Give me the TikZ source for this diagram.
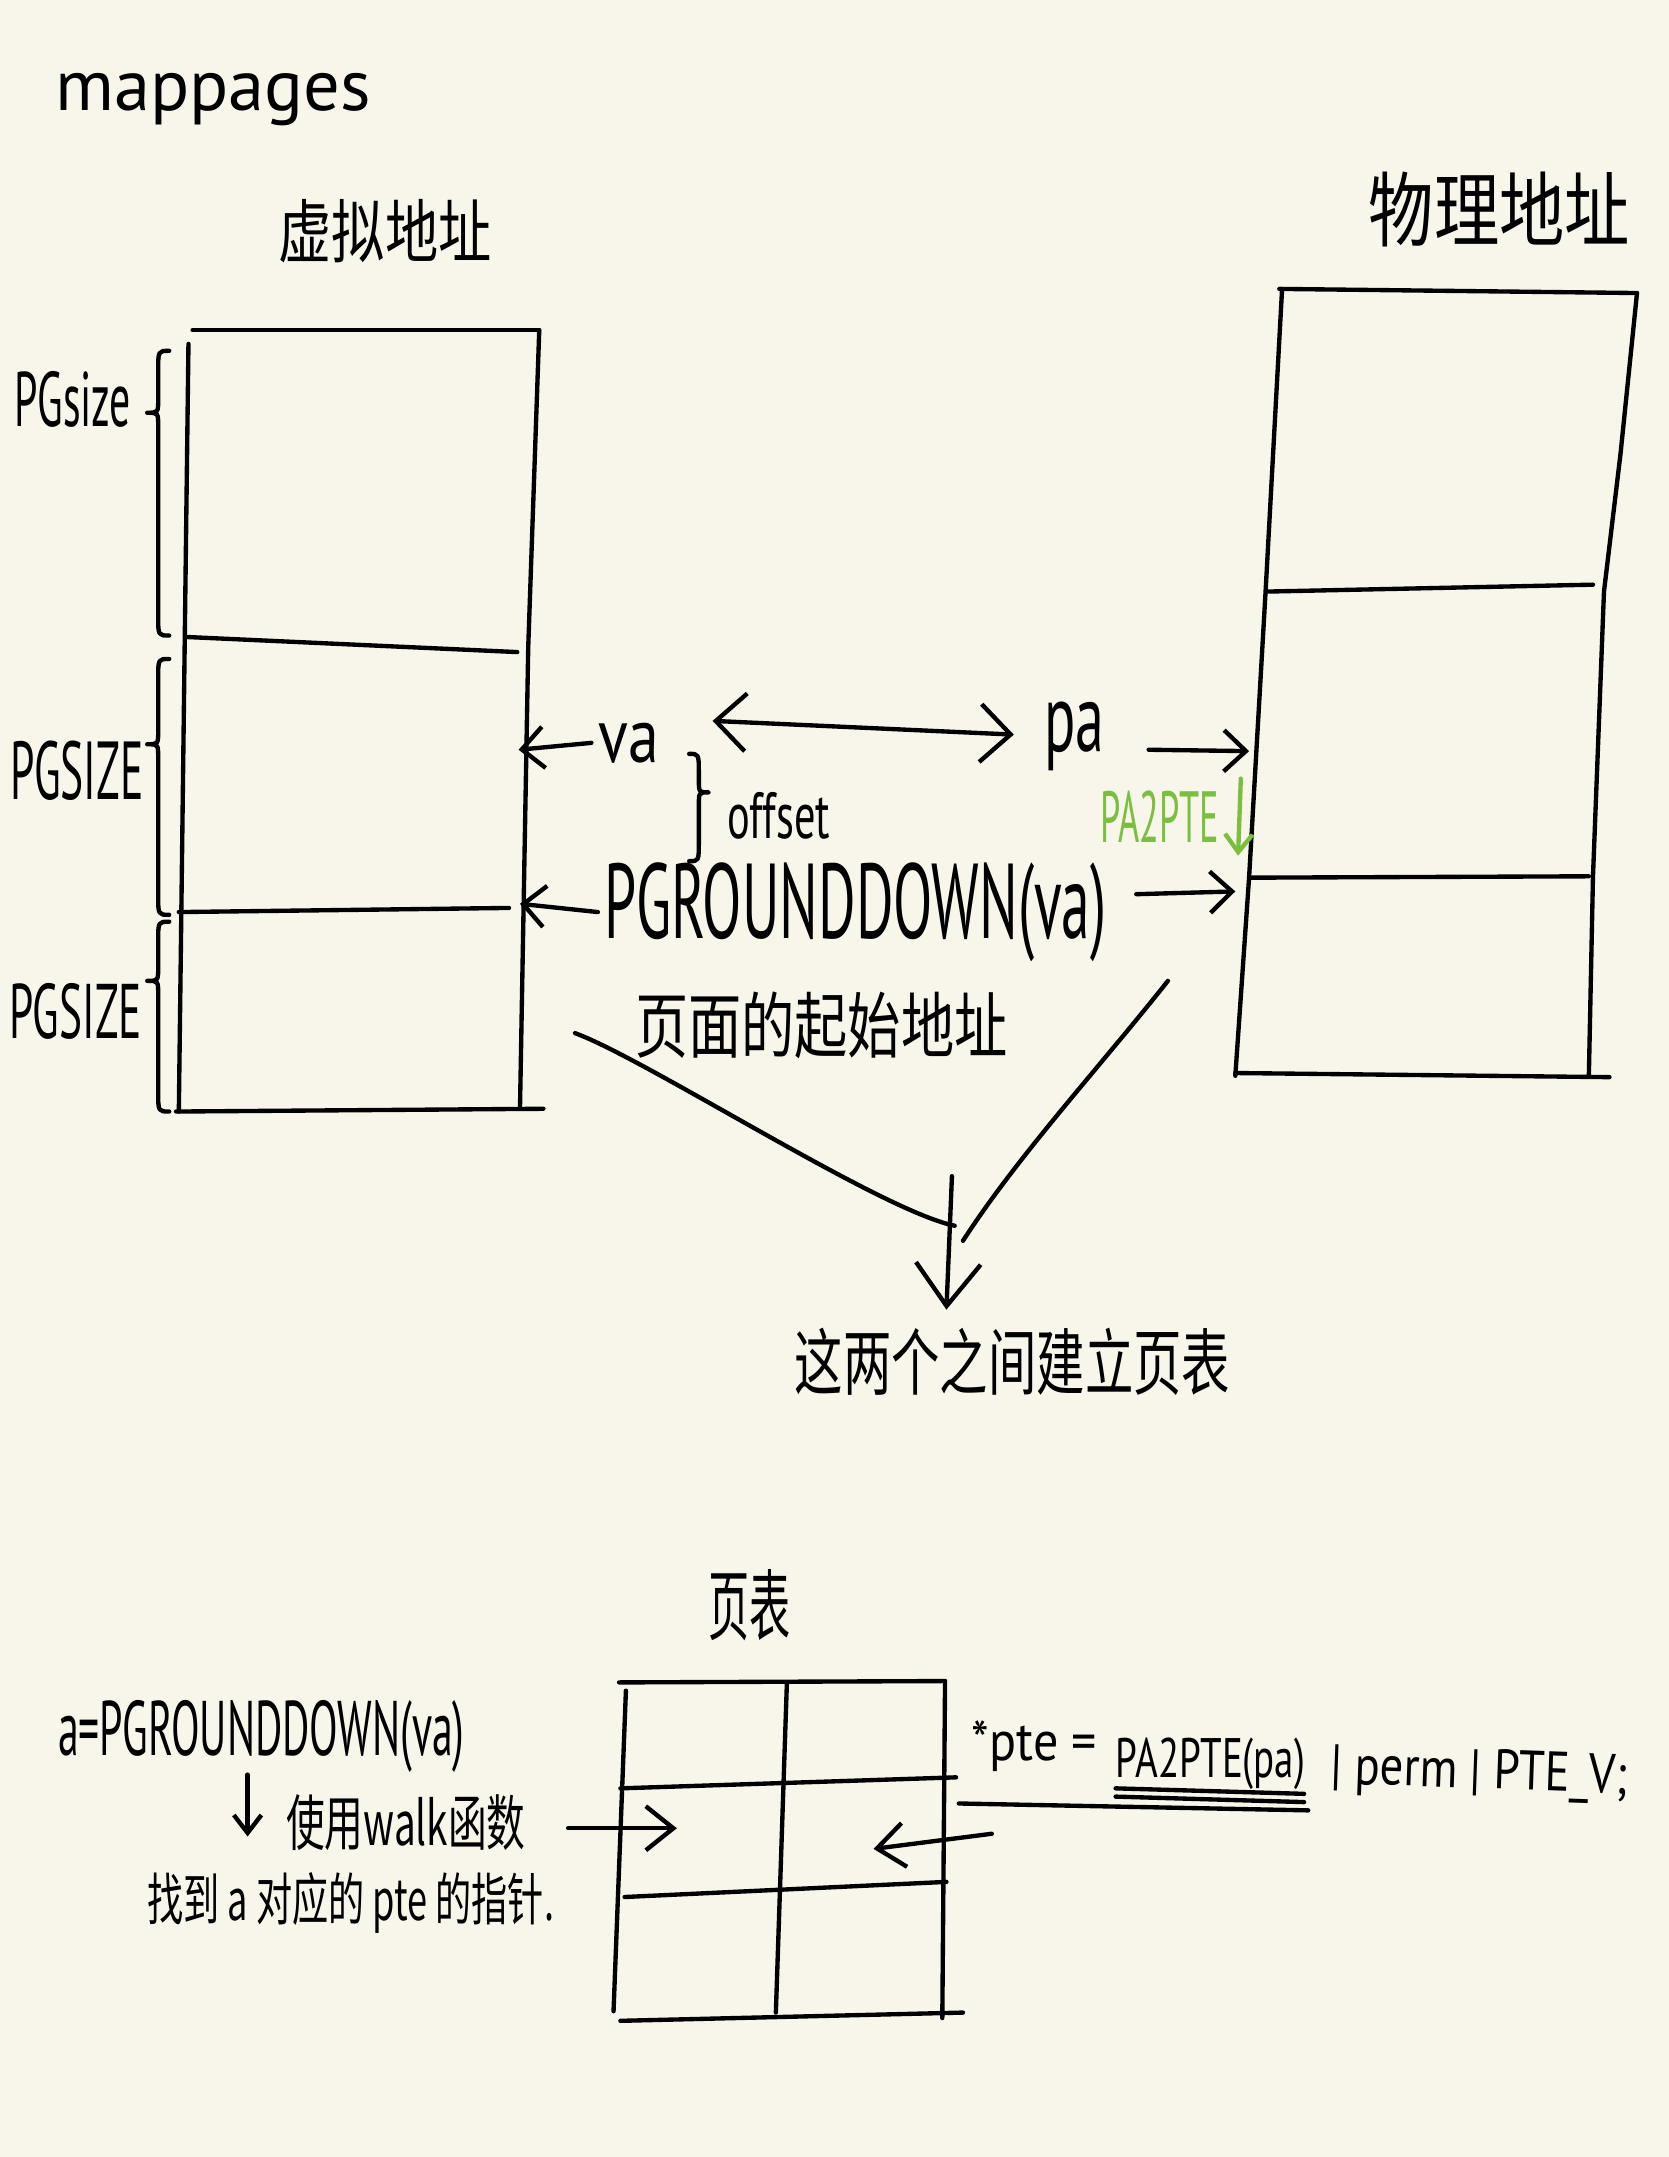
\documentclass[tikz,border=0pt]{standalone}
\usepackage{fontspec}
\setmainfont{PT Sans}
\newfontfamily\cjk{Noto Sans CJK SC}
\usetikzlibrary{arrows.meta}
\definecolor{paper}{HTML}{F8F6EB}
\definecolor{pagreen}{HTML}{7CBE3E}
\def\squeezed#1#2{\scalebox{#1}[1]{#2}}
\def\hwscale#1#2#3{\scalebox{#1}[#2]{#3}}
\def\pgbrace(#1,#2,#3,#4,#5){\draw ({#1+(#5)},#2) .. controls (#1,#2) and (#1,#2) .. (#1,{#2+14}) -- (#1,{#3-10}) .. controls (#1,#3) and (#1,#3) .. ({#1-(#5)},#3) .. controls (#1,#3) and (#1,#3) .. (#1,{#3+10}) -- (#1,{#4-14}) .. controls (#1,#4) and (#1,#4) .. ({#1+(#5)},#4);}

\begin{document}
\begin{tikzpicture}[x=0.01cm,y=-0.01cm,line width=0.9pt,line cap=round,line join=round,
    every node/.style={inner sep=1pt},
    lat/.style={font=\fontsize{#1pt}{#1pt}\selectfont},
    han/.style={font=\cjk\fontsize{#1pt}{#1pt}\selectfont},
    arr/.style={-{Straight Barb[length=1.6mm,width=3mm]}},
    midarr/.style={-{Straight Barb[length=2mm,width=3.2mm]}},
    duoarr/.style={{Straight Barb[length=2.2mm,width=4.2mm]}-{Straight Barb[length=2.2mm,width=4.2mm]}},
    downarr/.style={-{Straight Barb[length=3.1mm,width=4.7mm]}},
    smallarr/.style={-{Straight Barb[length=1.3mm,width=2mm]}}]
			%%%%% START %%%%%
			\fill[paper] (0,0) rectangle (1213,1568);
			
			\node[lat=15,anchor=base] (title) at (155,80) {mappages};
			\node[han=11] (vlabel) at (280,168) {\hwscale{1}{1.3}{虚拟地址}};
			\node[han=13.5] (plabel) at (1090,152) {\hwscale{1}{1.25}{物理地址}};
			
			% virtual pages
			\draw (140,240) -- (392,240);
			\draw (137,250) -- (130,808);
			\draw (392,240) -- (384,470) -- (378,806);
			\draw (128,808) -- (395,806);
			\draw (135,463) -- (376,474);
			\draw (130,663) -- (370,660);
			
			\pgbrace(115,255,300,462,8);
			\pgbrace(115,479,541,665,8);
			\pgbrace(115,670,713,808,8);
			\node[lat=16] (sz1) at (53,290) {\squeezed{0.54}{PGsize}};
			\node[lat=17] (sz2) at (56,560) {\squeezed{0.53}{PGSIZE}};
			\node[lat=16] (sz3) at (55,735) {\squeezed{0.56}{PGSIZE}};
			
			% physical pages
			\draw (930,210) -- (1190,213);
			\draw (932,210) -- (920,430) -- (908,638) -- (898,782);
			\draw (1190,213) -- (1178,330) -- (1166,430) -- (1158,637) -- (1155,782);
			\draw (898,780) -- (1170,783);
			\draw (922,430) -- (1158,425);
			\draw (908,638) -- (1155,637);
			
			% va <-> pa
			\node[lat=16] (va) at (457,540) {\squeezed{0.8}{va}};
			\node[lat=20] (pa) at (781,535) {\squeezed{0.6}{pa}};
			\coordinate (va-hit) at (377,545);
			\coordinate (link-l) at (518,524);
			\coordinate (link-r) at (737,534);
			\coordinate (pa-out) at (835,545);
			\coordinate (pa-hit) at (908,546);
			\draw[arr] (va.west) -- (va-hit);
			\draw[duoarr] (link-l) -- (link-r);
			\draw[arr] (pa-out) -- (pa-hit);
			
			\pgbrace(508,548,576,626,-7);
			\node[lat=13.5] (offset) at (566,593) {\squeezed{0.65}{offset}};
			
			\node[lat=15,text=pagreen] (pa2pte) at (843,594) {\squeezed{0.5}{PA2PTE}};
			\coordinate (green-top) at (902,566);
			\coordinate (green-end) at (900,622);
			\draw[smallarr,pagreen] (green-top) -- (green-end);
			
			% page start
			\node[lat=22] (pgrd) at (622,663) {\squeezed{0.54}{PGROUNDDOWN(va)}};
			\coordinate (pgrd-hit) at (378,657);
			\coordinate (pgrd-out) at (826,650);
			\coordinate (pgrd-phys) at (898,648);
			\draw[arr] (pgrd.west) -- (pgrd-hit);
			\draw[arr] (pgrd-out) -- (pgrd-phys);
			\node[han=11] (startaddr) at (597,745) {\hwscale{1}{1.35}{页面的起始地址}};
			
			% both go into the page table
			\coordinate (curve-a) at (418,751);
			\coordinate (curve-b) at (849,713);
			\coordinate (meet) at (692,855);
			\coordinate (meet-tip) at (688,952);
			\draw (curve-a) .. controls (470,770) and (640,880) .. (694,891);
			\draw (curve-b) .. controls (800,775) and (740,840) .. (700,902);
			\draw[downarr] (meet) -- (meet-tip);
			\node[han=10] (buildpt) at (736,990) {\hwscale{1}{1.5}{这两个之间建立页表}};
			
			% page table
			\node[han=10] (ptlabel) at (545,1167) {\hwscale{0.85}{1.6}{页表}};
			\draw (450,1223) -- (687,1222);
			\draw (455,1229) -- (446,1462);
			\draw (451,1469) -- (700,1463);
			\draw (687,1222) -- (685,1467);
			\draw (572,1224) -- (564,1463);
			\draw (451,1300) -- (695,1292);
			\draw (454,1379) -- (688,1368);
			
			\coordinate (walk-from) at (413,1329);
			\coordinate (walk-to) at (492,1329);
			\coordinate (set-from) at (721,1333);
			\coordinate (set-to) at (635,1344);
			\draw[midarr] (walk-from) -- (walk-to);
			\draw[midarr] (set-from) -- (set-to);
			
			\node[lat=16] (ptcalc) at (190,1262) {\squeezed{0.54}{a=PGROUNDDOWN(va)}};
			\coordinate (calc-down) at (180,1290);
			\coordinate (calc-end) at (180,1335);
			\draw[smallarr] (calc-down) -- (calc-end);
			\node[han=10] (walkuse) at (295,1325) {\hwscale{0.8}{1.25}{使用walk函数}};
			\node[han=9] (findpte) at (255,1383) {\hwscale{0.83}{1.3}{找到 a 对应的 pte 的指针.}};
			
			\node[lat=11.5,anchor=base] (ptestar) at (752,1280) {\squeezed{0.9}{*pte =}};
			\node[lat=11.5,anchor=base] (pa2ptefn) at (880,1292) {\squeezed{0.7}{PA2PTE(pa)}};
			\node[lat=11.5,anchor=base,rotate=-2] (permbits) at (1075,1300) {\squeezed{0.84}{| perm | PTE\_V;}};
			\draw (811,1300) -- (948,1304);
			\draw (811,1306) -- (948,1310);
			\draw (697,1311) -- (951,1316);
			%%%%% END %%%%%
\end{tikzpicture}
\end{document}
